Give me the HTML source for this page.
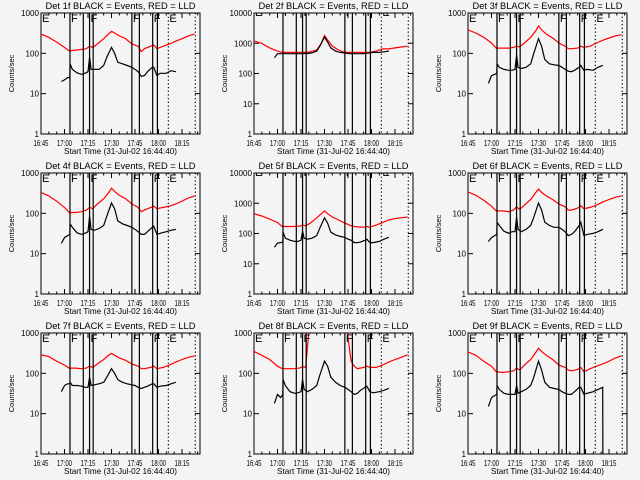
<!DOCTYPE html>
<html><head><meta charset="utf-8"><style>
html,body{margin:0;padding:0;background:#f4f4f4;}
svg{display:block;font-family:"Liberation Sans",sans-serif;}
</style></head><body>
<svg id="c" width="640" height="480" viewBox="0 0 640 480">
<rect width="640" height="480" fill="#f4f4f4"/>
</svg>
<script>
// time knots in minutes after 16:45
const redT = [0,5,10,15,18,22,26,29,31,33,36,40,43,45,47,50,54,58,62,64,66,70,72,74,78,82,86,90,94,98];
const blackT = [13,15,17,18.4,18.6,20,23,26,28,30,31,32,34,37,40,42,45,47,49,52,55,58,60,62,64,66,68,71,72,74,76,80,83,86,86.1];
const detectors = ["1f","2f","3f","4f","5f","6f","7f","8f","9f"];
const decades = [3,4,3,3,4,3,3,3,3];
const red1 = [300,250,190,140,115,120,125,130,150,140,170,230,300,350,320,270,230,170,150,110,130,150,160,130,150,170,200,230,270,300];
const black1 = [20,22,25,25,55,40,33,30,32,35,80,40,40,40,50,80,140,100,60,55,50,45,40,35,27,28,35,45,45,28,32,32,37,35,35];
const red2 = [1200,1000,700,550,500,500,500,500,500,500,520,600,1000,1800,1300,800,600,500,500,500,500,500,500,500,550,650,650,700,750,800];
const black2 = [330,450,450,450,450,450,450,450,450,450,460,460,460,480,550,800,1600,1100,700,550,500,480,460,450,450,450,450,460,470,480,500,500,520,550,550];
const red3 = [380,320,250,180,135,135,135,140,150,145,180,250,350,480,380,300,240,180,150,130,130,135,150,140,150,180,210,240,270,290];
const black3 = [18,28,30,32,55,45,40,38,38,40,90,45,42,45,55,100,230,150,70,55,52,50,45,40,36,35,38,45,50,38,40,38,45,50,50];
const red4 = [330,270,200,140,105,105,110,120,140,130,170,230,320,420,350,280,230,170,140,110,120,140,150,130,140,150,170,200,240,270];
const black4 = [18,25,28,30,55,45,33,30,32,35,85,40,38,42,50,85,180,130,65,55,50,45,40,35,30,30,35,45,48,30,32,35,38,40,40];
const red5 = [450,380,300,230,170,170,170,175,190,180,220,330,450,560,450,350,280,220,180,170,165,160,170,160,190,230,280,310,330,350];
const black5 = [35,48,50,52,110,70,60,55,55,60,120,70,65,70,85,150,330,220,110,90,80,75,65,60,50,50,52,60,65,50,50,55,65,75,75];
const red6 = [340,280,210,150,115,115,110,120,145,125,160,220,320,400,330,270,220,170,145,120,120,135,155,130,140,160,190,220,250,270];
const black6 = [20,25,28,30,60,50,36,32,35,35,80,40,35,40,50,80,180,120,60,50,45,45,40,35,28,30,35,50,60,28,30,32,35,40,40];
const red7 = [290,260,200,160,135,135,130,135,150,140,170,220,280,310,280,240,210,170,150,130,130,140,150,130,140,160,190,220,250,270];
const black7 = [35,50,55,55,60,50,50,48,45,45,80,50,52,55,60,80,130,100,70,60,55,52,50,45,42,45,48,55,55,45,48,50,55,60,60];
const red8 = [350,280,220,150,130,130,130,135,145,140,3000,3000,3000,3000,3000,3000,3000,3000,200,150,130,140,150,140,140,160,190,220,250,290];
const black8 = [18,30,25,30,70,50,35,32,33,35,70,40,35,40,50,90,200,150,80,60,50,45,40,35,30,32,38,45,48,35,33,35,38,42,42];
const red9 = [340,280,200,150,110,105,110,115,135,120,160,220,320,420,350,280,220,160,140,120,115,125,140,110,130,150,170,200,240,270];
const black9 = [15,25,28,30,50,40,32,30,30,30,50,32,35,40,50,80,200,120,60,45,42,40,35,32,30,30,35,45,45,30,32,35,40,45,0.5];
const redSeries = [red1,red2,red3,red4,red5,red6,red7,red8,red9];
const blackSeries = [black1,black2,black3,black4,black5,black6,black7,black8,black9];
const solidLines = [18.5,27,31,33.3,58,62.8,71.3,74.3];
const dottedLines = [81.3,98.5];
const letterT = [0,18.5,31,58,71.3,81.3];
const letters = ["E","F","F","F","F","E"];
const xTickLabels = ["16:45","17:00","17:15","17:30","17:45","18:00","18:15"];
const yTickLabels3 = ["1","10","100","1000"];
const yTickLabels4 = ["1","10","100","1000","10000"];

const NS="http://www.w3.org/2000/svg";
const svg=document.getElementById('c');
function mk(tag,attrs,parent){const e=document.createElementNS(NS,tag);for(const k in attrs)e.setAttribute(k,attrs[k]);(parent||svg).appendChild(e);return e;}
const TMAX=101.5;
for(let p=0;p<9;p++){
  const c=p%3,r=Math.floor(p/3);
  const ox=[0,213,427][c],oy=r*160;
  const L=ox+41,R=ox+200,T=oy+13,B=oy+134;
  const dec=decades[p];
  const xs=t=>L+(t/TMAX)*(R-L);
  const ys=v=>B-(Math.log10(v)/dec)*(B-T);
  const g=mk('g',{});
  
  
  const cid='clip'+p;
  const cp=mk('clipPath',{id:cid},g);mk('rect',{x:L,y:T,width:R-L,height:B-T},cp);
  const tt=mk('text',{x:(L+R)/2,y:oy+9,'text-anchor':'middle','font-size':9,textLength:150,lengthAdjust:'spacingAndGlyphs',fill:'#000'},g);
  tt.textContent='Det '+detectors[p]+' BLACK = Events, RED = LLD';
  
  
  const yl=mk('text',{x:0,y:0,'text-anchor':'middle','font-size':7.5,transform:`translate(${ox+14},${(T+B)/2}) rotate(-90)`},g);
  yl.textContent='Counts/sec';
  
  
  const xt=mk('text',{x:(L+R)/2,y:oy+154,'text-anchor':'middle','font-size':8.5,textLength:113,lengthAdjust:'spacingAndGlyphs'},g);
  xt.textContent='Start Time (31-Jul-02 16:44:40)';
  
  
  const ylab=dec===4?yTickLabels4:yTickLabels3;
  ylab.forEach((lab,i)=>{
    const y=ys(Math.pow(10,i));
    mk('line',{x1:L,x2:L+5,y1:y,y2:y,stroke:'#000'},g);
    mk('line',{x1:R-5,x2:R,y1:y,y2:y,stroke:'#000'},g);
    const t=mk('text',{x:L-2,y:y+3,'text-anchor':'end','font-size':8,textLength:lab.length*4.5,lengthAdjust:'spacingAndGlyphs'},g);
    t.textContent=lab;
    
    
  });
  xTickLabels.forEach((lab,i)=>{
    const x=xs(i*15);
    mk('line',{x1:x,x2:x,y1:B,y2:B-5,stroke:'#000'},g);
    mk('line',{x1:x,x2:x,y1:T,y2:T+5,stroke:'#000'},g);
    const t=mk('text',{x:x,y:B+12,'text-anchor':'middle','font-size':8,textLength:15,lengthAdjust:'spacingAndGlyphs'},g);
    t.textContent=lab;
    
    
  });
  for(let m=5;m<TMAX;m+=5){if(m%15===0)continue;const x=xs(m);
    mk('line',{x1:x,x2:x,y1:B,y2:B-2.5,stroke:'#000'},g);mk('line',{x1:x,x2:x,y1:T,y2:T+2.5,stroke:'#000'},g);}
  const fr=mk('rect',{x:L,y:T,width:R-L,height:B-T,fill:'none',stroke:'#000','stroke-width':1},g);
  
  
  const pg=mk('g',{'clip-path':`url(#${cid})`},g);
  const rp=mk('polyline',{points:redT.map((t,i)=>xs(t).toFixed(1)+','+ys(redSeries[p][i]).toFixed(1)).join(' '),fill:'none',stroke:'#ff0000','stroke-width':1.2},pg);
  
  
  const bp=mk('polyline',{points:blackT.map((t,i)=>xs(t).toFixed(1)+','+ys(blackSeries[p][i]).toFixed(1)).join(' '),fill:'none',stroke:'#000','stroke-width':1.2},pg);
  
  
  solidLines.forEach(t=>{const l=mk('line',{x1:xs(t),x2:xs(t),y1:T,y2:B,stroke:'#000','stroke-width':1.2},pg);
    
    });
  dottedLines.forEach(t=>{const l=mk('line',{x1:xs(t),x2:xs(t),y1:T,y2:B,stroke:'#000','stroke-width':1.2,'stroke-dasharray':'1.2,2.5'},pg);
    
    });
  letters.forEach((s,i)=>{const t=mk('text',{x:xs(letterT[i])+1,y:T+(dec===4?3:9),'font-size':11,fill:'#000'},pg);
    t.textContent=s;
    
    });
}
</script>
</body></html>
